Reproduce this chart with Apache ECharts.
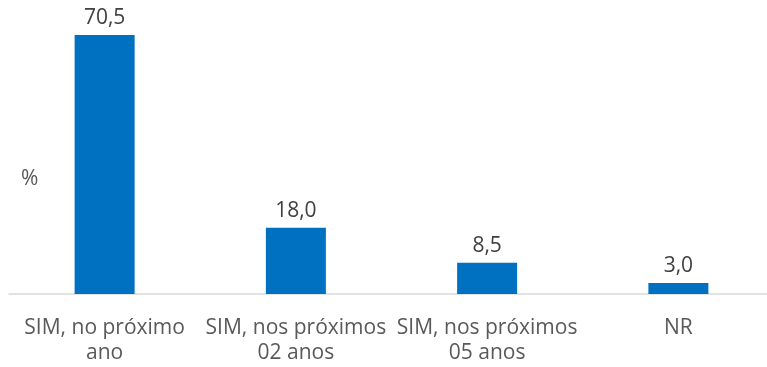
<!DOCTYPE html>
<html>
<head>
<meta charset="utf-8">
<script src="https://cdn.jsdelivr.net/npm/echarts@6/dist/echarts.min.js"></script>
<style>
  html, body { margin: 0; padding: 0; background: #fff; overflow: hidden; }
  #chart { width: 774px; height: 367px; }
</style>
</head>
<body>
<div id="chart"></div>
<script>
// Survey answers and their share (%)
const categories = ['SIM, no próximo\nano', 'SIM, nos próximos\n02 anos', 'SIM, nos próximos\n05 anos', 'NR'];
const values = [70.5, 18.0, 8.5, 3.0];

const textColor = '#595959';
const fontFamily = '"Open Sans", "Noto Sans", sans-serif';

const chart = echarts.init(document.getElementById('chart'));
chart.setOption({
  animation: false,
  textStyle: { fontFamily: fontFamily },
  grid: { left: 9, right: 0, top: 35, bottom: 73, containLabel: false },
  graphic: [{
    type: 'text', left: 21, top: 169,
    style: { text: '%', fill: textColor, font: '21px ' + fontFamily }
  }],
  xAxis: {
    type: 'category',
    data: categories,
    axisLine: { lineStyle: { color: '#d9d9d9', width: 1.5 } },
    axisTick: { show: false },
    axisLabel: {
      color: textColor, fontSize: 21, lineHeight: 25, margin: 22,
      interval: 0, fontFamily: fontFamily
    }
  },
  yAxis: {
    type: 'value', min: 0, max: 70.5,
    show: false, splitLine: { show: false }
  },
  series: [{
    type: 'bar',
    data: values,
    barWidth: 60,
    itemStyle: { color: '#0070c0' },
    label: {
      show: true, position: 'top', distance: 6,
      color: '#404040', fontSize: 21, fontFamily: fontFamily,
      formatter: p => p.value.toFixed(1).replace('.', ',')
    }
  }]
});
</script>
</body>
</html>
